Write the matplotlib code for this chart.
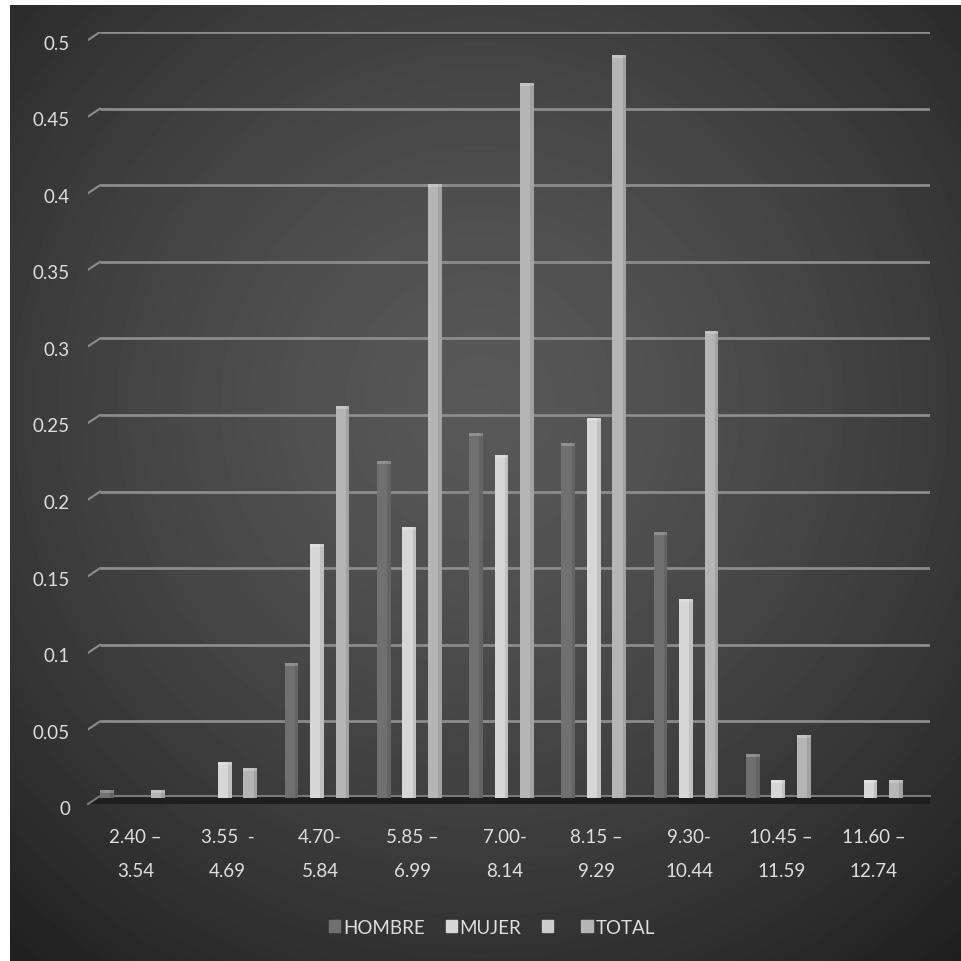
import numpy as np
import matplotlib.pyplot as plt
from matplotlib.patches import Patch, Polygon, Rectangle

plt.rcParams['font.family'] = ['Lato', 'DejaVu Sans']

# datos por intervalo
rangos_sup = ['2.40 –', '3.55  -', '4.70-', '5.85 –', '7.00-', '8.15 –', '9.30-', '10.45 –', '11.60 –']
rangos_inf = ['3.54', '4.69', '5.84', '6.99', '8.14', '9.29', '10.44', '11.59', '12.74']
hombre = [0.005, 0.0, 0.088, 0.220, 0.238, 0.232, 0.1735, 0.029, 0.0]
mujer = [0.0, 0.0235, 0.166, 0.177, 0.224, 0.248, 0.130, 0.012, 0.012]
total = [0.005, 0.0196, 0.256, 0.401, 0.467, 0.485, 0.305, 0.041, 0.012]
yticks = [0, 0.05, 0.1, 0.15, 0.2, 0.25, 0.3, 0.35, 0.4, 0.45, 0.5]
ylabels = ['0', '0.05', '0.1', '0.15', '0.2', '0.25', '0.3', '0.35', '0.4', '0.45', '0.5']

col_h = '#707070'
col_m = '#d6d6d6'
col_t = '#b5b5b5'
col_vacio = '#cdcdcd'
txt = '#dedede'

fig = plt.figure(figsize=(9.61, 9.62), dpi=100)
fig.patch.set_facecolor('white')

# fondo degradado
bg = fig.add_axes([10 / 961, 0, 951 / 961, 956 / 962])
yy, xx = np.mgrid[0:956, 0:951]
r = np.sqrt((xx - 470) ** 2 + (yy - 400) ** 2) / 650.0
val = np.clip(88 - 48 * r ** 1.4, 30, 90) / 255.0
bg.imshow(val, cmap='gray', vmin=0, vmax=1, aspect='auto', interpolation='bilinear')
bg.axis('off')

ax = fig.add_axes([88 / 961, (962 - 799) / 962, 842 / 961, 766 / 962])
ax.set_xlim(-0.482, 8.645)
ax.set_ylim(0, 0.5)
ax.axis('off')

px = 1 / 92.25      # unidad x por pixel
py = 0.5 / 766      # unidad y por pixel
x = np.arange(len(rangos_inf))

# lineas de cuadricula con el quiebre 3D a la izquierda
x0 = ax.get_xlim()[0]
for v in yticks[1:]:
    ax.plot([x0 + 12 * px, 8.645], [v, v], color='#8c8c8c', lw=2, zorder=1,
            solid_capstyle='butt')
    ax.plot([x0, x0 + 12 * px], [v - 8 * py, v], color='#8c8c8c', lw=1.5, zorder=1)

# piso
ax.add_patch(Polygon([[x0, -6 * py], [x0 + 12 * px, 2 * py], [8.645, 2 * py],
                      [8.645, -6 * py]], closed=True, facecolor='#1e1e1e',
                     edgecolor='none', zorder=2, clip_on=False))
ax.plot([x0, x0 + 12 * px, 8.645], [-6 * py, 2 * py, 2 * py], color='#7a7a7a',
        lw=1.5, zorder=2, clip_on=False)

# barras
ancho = 0.15
off = 0.276
base = -4 * py
for serie, color, dx in [(hombre, col_h, -off), (mujer, col_m, 0), (total, col_t, off)]:
    for xi, v in zip(x, serie):
        if v <= 0:
            continue
        left = xi + dx - ancho / 2
        ax.bar(xi + dx, v - base, width=ancho, bottom=base, color=color, zorder=3)
        # sombra lateral
        ax.add_patch(Rectangle((left + ancho * 0.75, base), ancho * 0.25, v - base,
                               facecolor='black', alpha=0.10, edgecolor='none', zorder=4))
        # tapa superior
        ax.add_patch(Rectangle((left, v - 3 * py), ancho, 3 * py,
                               facecolor='white', alpha=0.22, edgecolor='none', zorder=4))

# etiquetas del eje y
for v, lab in zip(yticks, ylabels):
    ax.text(x0 - 18 * px, v - 11 * py, lab, ha='right', va='center', fontsize=13.5,
            color=txt, clip_on=False)

# etiquetas del eje x
for xi, a, b in zip(x, rangos_sup, rangos_inf):
    ax.text(xi + 3 * px, -39 * py, a, ha='center', va='center', fontsize=13.5,
            color=txt, clip_on=False)
    ax.text(xi + 3 * px, -73 * py, b, ha='center', va='center', fontsize=13.5,
            color=txt, clip_on=False)

handles = [Patch(color=col_h), Patch(color=col_m), Patch(color=col_vacio), Patch(color=col_t)]
leg = fig.legend(handles, ['HOMBRE', 'MUJER', ' ', 'TOTAL'], loc='center',
                 bbox_to_anchor=(492 / 961, 1 - 928 / 962), ncol=4, frameon=False,
                 handlelength=0.6, handleheight=0.6, handletextpad=0.15,
                 columnspacing=1.1, fontsize=13.5)
for t in leg.get_texts():
    t.set_color(txt)

fig.savefig('out.png', dpi=100)
